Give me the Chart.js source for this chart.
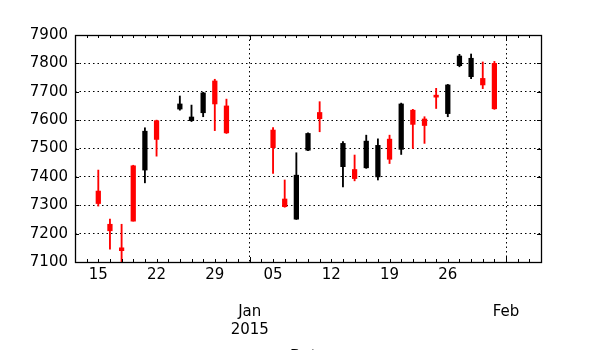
<!DOCTYPE html>
<html>
<head>
<meta charset="utf-8">
<script src="https://cdn.jsdelivr.net/npm/chart.js@4/dist/chart.umd.min.js"></script>
<style>
  html, body { margin: 0; padding: 0; background: #fff; }
  #wrap { width: 600px; height: 350px; }
</style>
</head>
<body>
<div id="wrap"><canvas id="chart" width="600" height="350"></canvas></div>
<script>
// datos diarios (sin festivos)
const dates = ['2014-12-15','2014-12-16','2014-12-17','2014-12-18','2014-12-19',
  '2014-12-22','2014-12-24','2014-12-25','2014-12-26','2014-12-29','2014-12-30',
  '2015-01-05','2015-01-06','2015-01-07','2015-01-08','2015-01-09',
  '2015-01-13','2015-01-14','2015-01-15','2015-01-16','2015-01-19',
  '2015-01-20','2015-01-21','2015-01-22','2015-01-23','2015-01-26',
  '2015-01-27','2015-01-28','2015-01-29','2015-01-30'];
const opens  = [7350,7233,7150,7439,7424, 7598,7639,7598,7626,7738,7650, 7565,7322,7251,7494,7627, 7436,7426,7432,7400,7533, 7497,7635,7604,7688,7623, 7792,7753,7747,7800];
const highs  = [7424,7251,7233,7441,7573, 7600,7685,7653,7698,7744,7674, 7574,7389,7485,7555,7665, 7524,7477,7547,7534,7547, 7660,7638,7612,7712,7726, 7832,7833,7805,7807];
const lows   = [7297,7145,7090,7244,7379, 7473,7635,7595,7612,7563,7553, 7412,7293,7250,7492,7559, 7365,7386,7430,7389,7447, 7479,7500,7518,7641,7612, 7788,7746,7711,7638];
const closes = [7306,7210,7140,7244,7561, 7532,7657,7611,7696,7657,7555, 7503,7295,7406,7553,7605, 7518,7394,7526,7511,7462, 7657,7585,7581,7681,7724, 7826,7818,7724,7640];

const minorTickDates  = ['2014-12-15','2014-12-22','2014-12-29','2015-01-05','2015-01-12','2015-01-19','2015-01-26'];
const minorTickLabels = ['15','22','29','05','12','19','26'];
const majorTickDates  = ['2015-01-01','2015-02-02'];
const majorTickLabels = [['Jan','2015'], ['Feb']];
const yTicks = [7100,7200,7300,7400,7500,7600,7700,7800,7900];
const firstDay = '2014-12-11';
const lastDay = '2015-02-05';
const baseDay = '2014-12-15';

// dias habiles desde baseDay
function bday(s) {
  let d = new Date(baseDay + 'T00:00:00Z');
  const t = new Date(s + 'T00:00:00Z');
  const step = t >= d ? 1 : -1;
  let n = 0;
  while (d.getTime() !== t.getTime()) {
    d.setUTCDate(d.getUTCDate() + step);
    const wd = d.getUTCDay();
    if (wd !== 0 && wd !== 6) n += step;
  }
  return n;
}

const xs = dates.map(bday);
const colores = closes.map((c, i) => c >= opens[i] ? '#000000' : '#ff0000');

let etiquetas = {};
minorTickDates.forEach((d, i) => { etiquetas[bday(d)] = minorTickLabels[i]; });
let mayores = new Set();
majorTickDates.forEach((d, i) => {
  const v = bday(d);
  mayores.add(v);
  etiquetas[v] = ['', ''].concat(majorTickLabels[i]);
});

const xMin = bday(firstDay), xMax = bday(lastDay);

const fuente = { family: 'DejaVu Sans', size: 15, lineHeight: 1.23 };

const marco = {
  id: 'marco',
  afterDraw(chart) {
    const { ctx, chartArea: a, scales: { x, y } } = chart;
    ctx.save();
    ctx.strokeStyle = '#000';
    ctx.lineWidth = 1;
    ctx.beginPath();
    x.ticks.forEach(t => {
      const px = Math.round(x.getPixelForValue(t.value)) + 0.5;
      const len = mayores.has(t.value) ? 5 : 3;
      ctx.moveTo(px, a.bottom); ctx.lineTo(px, a.bottom - len);
      ctx.moveTo(px, a.top); ctx.lineTo(px, a.top + len);
    });
    y.ticks.forEach(t => {
      const py = Math.round(y.getPixelForValue(t.value)) + 0.5;
      ctx.moveTo(a.left, py); ctx.lineTo(a.left + 4, py);
      ctx.moveTo(a.right, py); ctx.lineTo(a.right - 4, py);
    });
    ctx.stroke();
    ctx.lineWidth = 1.3;
    ctx.strokeRect(Math.round(a.left) + 0.5, Math.round(a.top) + 0.5, Math.round(a.width), Math.round(a.height));
    ctx.fillStyle = '#000';
    ctx.font = '15px "DejaVu Sans"';
    ctx.textAlign = 'center';
    ctx.textBaseline = 'middle';
    ctx.fillText('Date', (a.left + a.right) / 2, 357);
    ctx.restore();
  }
};

var ctx = document.getElementById('chart').getContext('2d');
var chart = new Chart(ctx, {
  type: 'bar',
  data: {
    datasets: [{
      label: 'cuerpo',
      data: xs.map((x, i) => ({ x: x, y: [opens[i], closes[i]] })),
      backgroundColor: colores,
      barThickness: 4.6,
      grouped: false
    }, {
      label: 'mecha',
      data: xs.map((x, i) => ({ x: x, y: [lows[i], highs[i]] })),
      backgroundColor: colores,
      barThickness: 1.2,
      grouped: false
    }]
  },
  options: {
    responsive: false,
    animation: false,
    layout: { padding: { left: 0, top: 35, right: 59, bottom: 0 } },
    plugins: { legend: { display: false }, tooltip: { enabled: false } },
    scales: {
      x: {
        type: 'linear',
        min: xMin,
        max: xMax,
        offset: false,
        afterBuildTicks: (s) => {
          let t = [];
          for (let v = xMin; v <= xMax; v++) t.push({ value: v });
          s.ticks = t;
        },
        afterFit: (s) => { s.height = 88; },
        ticks: {
          autoSkip: false,
          maxRotation: 0,
          padding: 4,
          color: '#000',
          font: fuente,
          callback: (v) => etiquetas[v] !== undefined ? etiquetas[v] : ''
        },
        grid: {
          offset: false,
          drawTicks: false,
          color: '#000',
          lineWidth: (c) => mayores.has(c.tick && c.tick.value) ? 1 : 0
        },
        border: { display: false, dash: [1.5, 3] }
      },
      y: {
        min: 7100,
        max: 7900,
        afterBuildTicks: (s) => { s.ticks = yTicks.map(v => ({ value: v })); },
        afterFit: (s) => { s.width = 75; },
        ticks: { padding: 7, color: '#000', font: fuente, callback: (v) => String(v) },
        grid: {
          drawTicks: false,
          color: '#000',
          lineWidth: (c) => (c.tick && (c.tick.value === 7100 || c.tick.value === 7900)) ? 0 : 1
        },
        border: { display: false, dash: [1.5, 3] }
      }
    }
  },
  plugins: [marco]
});
</script>
</body>
</html>
